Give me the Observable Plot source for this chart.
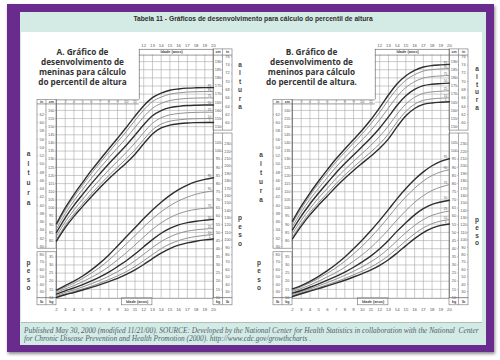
<!DOCTYPE html>
<html><head><meta charset="utf-8">
<script src="https://cdn.jsdelivr.net/npm/d3@7"></script>
<script src="https://cdn.jsdelivr.net/npm/@observablehq/plot@0.6"></script>
<style>
body{margin:0;width:500px;height:360px;position:relative;overflow:hidden;background:#fff;font-family:"Liberation Sans",Arial,sans-serif}
.abs{position:absolute}
#frame{left:7px;top:4px;width:487px;height:348px;background:#6a2b8e;box-shadow:1px 2px 3px rgba(0,0,0,.45)}
#mint{left:20px;top:12px;width:466px;height:333px;background:#d3ebe4}
#panel{left:21px;top:32px;width:461px;height:290px;background:#fff;border-bottom:1px solid #aebfba}
#title{left:20px;width:466px;text-align:center;font-weight:bold;color:#2d2d2d;white-space:nowrap;line-height:8px}
.cap{left:24px;font-style:italic;color:#4d6170;white-space:nowrap;font-family:"Liberation Serif",serif;line-height:8.4px}
.ptitle{font-weight:bold;color:#333;text-align:center;white-space:nowrap;line-height:10.2px;width:140px;font-family:"Open Sans","Liberation Sans",sans-serif}
.vl{font-weight:bold;color:#444;font-size:6.5px;text-align:center;width:10px;line-height:8px;font-family:"Liberation Sans",sans-serif}
.chart{top:32px;width:228px;height:290px}
</style></head><body>
<div id="frame" class="abs"></div>
<div id="mint" class="abs"></div>
<div id="panel" class="abs"></div>
<div id="title" class="abs">Tabela 11 - Gráficos de desenvolvimento para cálculo do percentil de altura</div>
<div id="ptA" class="abs ptitle" style="left:12.5px;top:46.6px">A. Gráfico de<br>desenvolvimento de<br>meninas para cálculo<br>do percentil de altura</div>
<div id="ptB" class="abs ptitle" style="left:241.5px;top:46.6px">B. Gráfico de<br>desenvolvimento de<br>meninos para cálculo<br>do percentil de altura.</div>
<div id="chartA" class="abs chart" style="left:22px"></div>
<div id="chartB" class="abs chart" style="left:257.5px"></div>
<div id="cap1" class="abs cap">Published May 30, 2000 (modified 11/21/00). SOURCE: Developed by the National Center for Health Statistics in collaboration with the National&nbsp; Center</div>
<div id="cap2" class="abs cap">for Chronic Disease Prevention and Health Promotion (2000). http://www.cdc.gov/growthcharts .</div>
<script>
// ---------------- data ----------------
const ages = [2,3,4,5,6,7,8,9,10,11,12,13,14,15,16,17,18,19,20];
const percentiles = [5,10,25,50,75,90,95];
const boldPercentiles = [5,50,95];

// Girls stature (cm)
const girlsHeightP5  = [79.6,87.9,94.9,101.0,106.9,112.6,118.0,122.9,127.7,133.1,139.5,145.5,149.2,151.0,151.8,152.3,152.5,152.6,152.6];
const girlsHeightP10 = [80.8,89.3,96.4,102.6,108.7,114.5,120.0,125.1,130.2,135.7,142.1,148.0,151.6,153.4,154.2,154.7,154.9,155.0,155.0];
const girlsHeightP25 = [82.8,91.5,98.8,105.4,111.7,117.7,123.4,128.8,134.2,140.0,146.4,152.1,155.5,157.3,158.1,158.6,158.8,158.9,158.9];
const girlsHeightP50 = [85.0,94.0,101.6,108.4,115.0,121.2,127.2,132.9,138.6,144.8,151.2,156.7,159.9,161.7,162.5,163.0,163.2,163.3,163.3];
const girlsHeightP75 = [87.2,96.5,104.4,111.4,118.3,124.7,131.0,137.0,143.0,149.6,156.0,161.3,164.3,166.1,166.9,167.4,167.6,167.7,167.7];
const girlsHeightP90 = [89.2,98.7,106.8,114.2,121.3,127.9,134.4,140.7,147.0,153.9,160.3,165.4,168.2,170.0,170.8,171.3,171.5,171.6,171.6];
const girlsHeightP95 = [90.4,100.1,108.3,115.8,123.1,129.8,136.4,142.9,149.5,156.5,162.9,167.9,170.6,172.4,173.2,173.7,173.9,174.0,174.0];
// Girls weight (kg)
const girlsWeightP5  = [10.0,11.7,13.1,14.6,16.2,17.9,19.8,21.8,24.2,27.0,30.3,33.9,37.3,40.1,42.2,43.6,44.6,45.4,46.0];
const girlsWeightP10 = [10.5,12.2,13.7,15.3,17.0,18.9,21.0,23.3,25.9,29.0,32.6,36.4,40.0,42.9,45.0,46.5,47.5,48.2,48.8];
const girlsWeightP25 = [11.2,13.1,14.7,16.5,18.5,20.6,23.1,25.9,29.0,32.6,36.6,40.7,44.4,47.3,49.4,50.8,51.6,52.1,52.4];
const girlsWeightP50 = [12.1,14.1,15.9,17.9,20.2,22.7,25.6,29.0,32.6,36.7,41.2,45.6,49.5,52.5,54.6,56.0,56.9,57.5,58.0];
const girlsWeightP75 = [13.0,15.3,17.3,19.7,22.4,25.4,29.0,33.1,37.5,42.3,47.2,51.9,55.9,59.1,61.5,63.1,64.2,64.8,65.2];
const girlsWeightP90 = [13.9,16.4,18.8,21.7,25.0,28.7,33.0,37.9,42.9,48.1,53.4,58.3,62.7,66.4,69.4,71.7,73.5,74.7,75.6];
const girlsWeightP95 = [14.6,17.3,20.0,23.2,27.0,31.3,36.2,41.7,47.3,52.9,58.5,63.8,68.6,72.8,76.3,79.1,81.2,82.6,83.6];

// Boys stature (cm)
const boysHeightP5  = [81.1,88.9,95.8,101.8,107.4,113.1,118.3,123.1,127.6,132.0,136.7,142.5,150.0,156.7,161.2,163.7,164.6,165.0,165.3];
const boysHeightP10 = [82.3,90.3,97.3,103.4,109.2,115.0,120.3,125.2,129.9,134.5,139.5,145.5,153.0,159.4,163.8,166.2,167.1,167.5,167.8];
const boysHeightP25 = [84.3,92.5,99.7,106.2,112.2,118.2,123.6,128.7,133.6,138.6,144.1,150.5,157.8,163.9,168.1,170.5,171.4,171.8,172.1];
const boysHeightP50 = [86.5,95.0,102.5,109.2,115.5,121.7,127.3,132.6,137.8,143.2,149.2,156.0,163.2,169.0,172.9,175.2,176.1,176.5,176.8];
const boysHeightP75 = [88.7,97.5,105.3,112.2,118.8,125.2,131.0,136.5,142.0,147.8,154.3,161.5,168.6,174.1,177.7,179.9,180.8,181.2,181.5];
const boysHeightP90 = [90.7,99.7,107.7,115.0,121.8,128.4,134.3,140.0,145.7,151.9,158.9,166.5,173.4,178.6,182.0,184.2,185.1,185.5,185.8];
const boysHeightP95 = [91.9,101.1,109.2,116.6,123.6,130.3,136.3,142.1,148.0,154.4,161.7,169.5,176.4,181.3,184.6,186.7,187.6,188.0,188.3];
// Boys weight (kg)
const boysWeightP5  = [10.6,12.3,13.9,15.5,17.1,18.8,20.6,22.6,24.7,27.0,29.8,33.2,37.4,41.9,46.2,49.9,52.6,54.3,55.2];
const boysWeightP10 = [11.0,12.8,14.4,16.1,17.9,19.7,21.7,23.9,26.2,28.8,31.9,35.7,40.2,44.9,49.2,52.8,55.4,57.0,57.9];
const boysWeightP25 = [11.8,13.5,15.3,17.2,19.2,21.3,23.6,26.1,28.9,32.0,35.6,40.0,45.0,49.9,54.3,57.9,60.5,62.1,63.2];
const boysWeightP50 = [12.7,14.3,16.3,18.4,20.7,23.0,25.6,28.6,31.9,35.6,40.0,45.1,50.8,56.0,60.8,64.6,67.2,68.7,69.8];
const boysWeightP75 = [13.7,15.5,17.6,20.0,22.7,25.4,28.6,32.3,36.3,40.8,46.0,51.7,57.8,63.4,68.5,72.6,75.8,77.9,79.4];
const boysWeightP90 = [14.6,16.6,19.0,21.8,24.9,28.3,32.3,36.8,41.7,47.1,53.0,59.4,66.0,71.9,77.2,81.6,85.0,87.2,88.6];
const boysWeightP95 = [15.3,17.3,19.9,23.0,26.5,30.4,34.9,40.0,45.4,51.2,57.4,64.0,70.8,77.0,82.5,87.2,91.0,93.7,95.3];

// Tick labels
const ageTicksBottom = [2,3,4,5,6,7,8,9,10,11,12,13,14,15,16,17,18,19,20];
const ageTicksTop = [12,13,14,15,16,17,18,19,20];
const ageTicksHeader = [3,4,5,6,7,8,9,10,11];
const cmTicksLeft = [80,85,90,95,100,105,110,115,120,125,130,135,140,145,150,155,160];
const inTicksLeft = [30,32,34,36,38,40,42,44,46,48,50,52,54,56,58,60,62];
const kgTicksLeft = [10,15,20,25,30,35];
const lbTicksLeft = [30,40,50,60,70,80];
const cmTicksRight = [150,155,160,165,170,175,180,185,190];
const inTicksRight = [60,62,64,66,68,70,72,74,76];
const kgTicksRight = [10,15,20,25,30,35,40,45,50,55,60,65,70,75,80,85,90,95,100,105];
const lbTicksRight = [30,40,50,60,70,80,90,100,110,120,130,140,150,160,170,180,190,200,210,220,230];

// ---------------- chart ----------------
function makeChart(heights, weights) {
  const KG = 35;              // weight scale sits 35 units under the stature scale
  const IN = 2.54, LB = 0.4536;
  const X0 = -0.18, XM = 0.79, XR1 = 21.03, XR2 = 22.18, STEP = 11.5;
  const TOP = 197.5, HEAD = 194, LTOP = 166.5, LHEAD = 164, BOT = 44.5, FOOT = 40.2;
  const SB = 75, WT = 72.8, RS = 147.6, RW = 145.8;
  const cC = (2 + XM) / 2, cI = (X0 + XM) / 2, rC = (20 + XR1) / 2, rI = (XR1 + XR2) / 2;

  const series = [];
  heights.forEach((arr, i) => arr.forEach((v, j) => series.push({s: "h", age: ages[j], y: v, p: percentiles[i]})));
  weights.forEach((arr, i) => arr.forEach((v, j) => series.push({s: "w", age: ages[j], y: v + KG, p: percentiles[i]})));
  const bold = series.filter(d => boldPercentiles.includes(d.p));
  const light = series.filter(d => !boldPercentiles.includes(d.p));
  const ends = series.filter(d => d.age === 20);

  const levels = d3.range(50, 191, 5);
  const boxes = [
    {x1: X0, x2: 2, y1: SB, y2: LTOP}, {x1: X0, x2: 2, y1: BOT, y2: WT}, {x1: X0, x2: 2, y1: FOOT, y2: BOT},
    {x1: 20, x2: XR2, y1: RS, y2: TOP}, {x1: 20, x2: XR2, y1: BOT, y2: RW}, {x1: 20, x2: XR2, y1: FOOT, y2: BOT},
    {x1: 9.5, x2: 13.0, y1: FOOT, y2: BOT}
  ];
  const dividers = [
    {x: XM, y1: FOOT, y2: WT}, {x: XM, y1: SB, y2: LTOP},
    {x: XR1, y1: FOOT, y2: RW}, {x: XR1, y1: RS, y2: TOP}
  ];
  const hOutline = [
    {y: LTOP, x1: 2, x2: STEP}, {y: LHEAD, x1: X0, x2: STEP},
    {y: TOP, x1: STEP, x2: 20}, {y: HEAD, x1: STEP, x2: XR2}, {y: BOT, x2: 20, x1: 2}
  ];
  const vOutline = [{x: STEP, y1: LTOP, y2: TOP}, {x: 2, y1: BOT, y2: LTOP}, {x: 20, y1: BOT, y2: TOP}];

  const lab = (vals, x, f) => vals.map(v => ({x, y: f(v), t: String(v)}));
  const colLabels = [].concat(
    lab(cmTicksLeft, cC, v => v), lab(inTicksLeft, cI, v => v * IN),
    lab(kgTicksLeft, cC, v => v + KG), lab(lbTicksLeft, cI, v => v * LB + KG),
    lab(cmTicksRight, rC, v => v), lab(inTicksRight, rI, v => v * IN),
    lab(kgTicksRight, rC, v => v + KG), lab(lbTicksRight, rI, v => v * LB + KG)
  );
  const ticks = [].concat(
    colLabels.filter(d => d.x === cI || d.x === rI).flatMap(d => {
      const a = d.x === cI ? X0 : XR1, b = d.x === cI ? XM : XR2;
      return [{y: d.y, x1: a, x2: a + 0.1}, {y: d.y, x1: b - 0.1, x2: b}];
    }),
    colLabels.filter(d => d.x === cC || d.x === rC).flatMap(d => {
      const a = d.x === cC ? XM : 20, b = d.x === cC ? 2 : XR1;
      return [{y: d.y, x1: a, x2: a + 0.1}, {y: d.y, x1: b - 0.1, x2: b}];
    })
  );
  const heads = [
    {x: cI, y: 165.3, t: "in"}, {x: cC, y: 165.3, t: "cm"},
    {x: rC, y: 195.8, t: "cm"}, {x: rI, y: 195.8, t: "in"},
    {x: cI, y: 42.3, t: "lb"}, {x: cC, y: 42.3, t: "kg"},
    {x: rC, y: 42.3, t: "kg"}, {x: rI, y: 42.3, t: "lb"}
  ];
  const idade = [{x: 15.2, y: 195.8, t: "Idade (anos)"}, {x: 11.25, y: 42.3, t: "Idade (anos)"}];

  return Plot.plot({
    width: 228, height: 290, margin: 0,
    style: {background: "transparent", overflow: "visible", fontFamily: "Liberation Sans, Arial, sans-serif"},
    x: {domain: [2, 20], range: [34, 191], axis: null},
    y: {domain: [45, 198], range: [265, 16.1], axis: null},
    marks: [
      Plot.ruleX(ages, {x: d => d, y1: BOT, y2: d => d < STEP ? LHEAD : HEAD, stroke: "#a8a8a8", strokeWidth: 0.6}),
      Plot.ruleY(levels, {y: d => d, x1: d => d > LHEAD ? STEP : 2, x2: 20, stroke: "#a8a8a8", strokeWidth: 0.6}),
      Plot.rect(boxes, {x1: "x1", x2: "x2", y1: "y1", y2: "y2", fill: "white", stroke: "#6e6e6e", strokeWidth: 0.6}),
      Plot.ruleX(dividers, {x: "x", y1: "y1", y2: "y2", stroke: "#6e6e6e", strokeWidth: 0.6}),
      Plot.ruleY(hOutline, {y: "y", x1: "x1", x2: "x2", stroke: "#6e6e6e", strokeWidth: 0.7}),
      Plot.ruleX(vOutline, {x: "x", y1: "y1", y2: "y2", stroke: "#6e6e6e", strokeWidth: 0.7}),
      Plot.ruleY(ticks, {y: "y", x1: "x1", x2: "x2", stroke: "#777", strokeWidth: 0.5}),
      Plot.text(colLabels, {x: "x", y: "y", text: "t", fontSize: 3.9, fill: "#555"}),
      Plot.text(heads, {x: "x", y: "y", text: "t", fontSize: 3.6, fill: "#444", fontWeight: "bold"}),
      Plot.text(idade, {x: "x", y: "y", text: "t", fontSize: 3.8, fill: "#444", fontWeight: "bold"}),
      Plot.text(ageTicksBottom, {x: d => d, y: 37.3, text: d => String(d), fontSize: 4.3, fill: "#555"}),
      Plot.text(ageTicksTop, {x: d => d, y: 199.7, text: d => String(d), fontSize: 4.3, fill: "#555"}),
      Plot.text(ageTicksHeader, {x: d => d, y: 165.3, text: d => String(d), fontSize: 3.9, fill: "#555"}),
      Plot.line(light, {x: "age", y: "y", z: d => d.s + d.p, stroke: "#8d8d8d", strokeWidth: 0.95, curve: "monotone-x"}),
      Plot.line(bold, {x: "age", y: "y", z: d => d.s + d.p, stroke: "#2e2e2e", strokeWidth: 1.4, curve: "monotone-x"}),
      Plot.text(ends, {x: 19.55, y: "y", dy: -1.8, text: d => String(d.p), fontSize: 3.1, fill: "#555"})
    ]
  });
}

document.getElementById("chartA").appendChild(makeChart(
  [girlsHeightP5, girlsHeightP10, girlsHeightP25, girlsHeightP50, girlsHeightP75, girlsHeightP90, girlsHeightP95],
  [girlsWeightP5, girlsWeightP10, girlsWeightP25, girlsWeightP50, girlsWeightP75, girlsWeightP90, girlsWeightP95]));
document.getElementById("chartB").appendChild(makeChart(
  [boysHeightP5, boysHeightP10, boysHeightP25, boysHeightP50, boysHeightP75, boysHeightP90, boysHeightP95],
  [boysWeightP5, boysWeightP10, boysWeightP25, boysWeightP50, boysWeightP75, boysWeightP90, boysWeightP95]));

// vertical letter labels
function vlabel(word, x, y0, step) {
  [...word].forEach((ch, i) => {
    const d = document.createElement("div");
    d.className = "abs vl"; d.textContent = ch;
    d.style.left = (x - 5) + "px"; d.style.top = (y0 + i * step - 4) + "px";
    document.body.appendChild(d);
  });
}
vlabel("altura", 28.5, 154, 9.7); vlabel("peso", 28.5, 263, 8.4);
vlabel("altura", 240, 65, 8.4);  vlabel("peso", 240, 218, 8.5);
vlabel("altura", 261, 155, 9.0); vlabel("peso", 259, 263, 8.4);
vlabel("altura", 477, 69, 7.8);  vlabel("peso", 477, 220, 7.8);

// fit text widths
const ctx = document.createElement("canvas").getContext("2d");
function fitSize(text, font, target) { ctx.font = "10px " + font; const w = ctx.measureText(text).width; return 10 * target / w; }
const tSize = fitSize("Tabela 11 - Gráficos de desenvolvimento para cálculo do percentil de altura", "bold 10px 'Liberation Sans'".replace("10px ",""), 240);
ctx.font = "bold 10px 'Liberation Sans'";
let w = ctx.measureText("Tabela 11 - Gráficos de desenvolvimento para cálculo do percentil de altura").width;
const t = document.getElementById("title"); t.style.fontSize = (10 * 240 / w) + "px"; t.style.top = "15.3px";
ctx.font = "bold 10px 'Open Sans'";
w = ctx.measureText("desenvolvimento de").width;
const ps = 10 * 83 / w;
document.getElementById("ptA").style.fontSize = ps + "px";
document.getElementById("ptB").style.fontSize = ps + "px";
ctx.font = "italic 10px 'Liberation Serif'";
w = ctx.measureText("Published May 30, 2000 (modified 11/21/00). SOURCE: Developed by the National Center for Health Statistics in collaboration with the National  Center").width;
const cs = 10 * 455 / w;
const c1 = document.getElementById("cap1"), c2 = document.getElementById("cap2");
c1.style.fontSize = cs + "px"; c2.style.fontSize = cs + "px";
c1.style.top = "326.8px"; c2.style.top = "335.1px";
</script>
</body></html>
